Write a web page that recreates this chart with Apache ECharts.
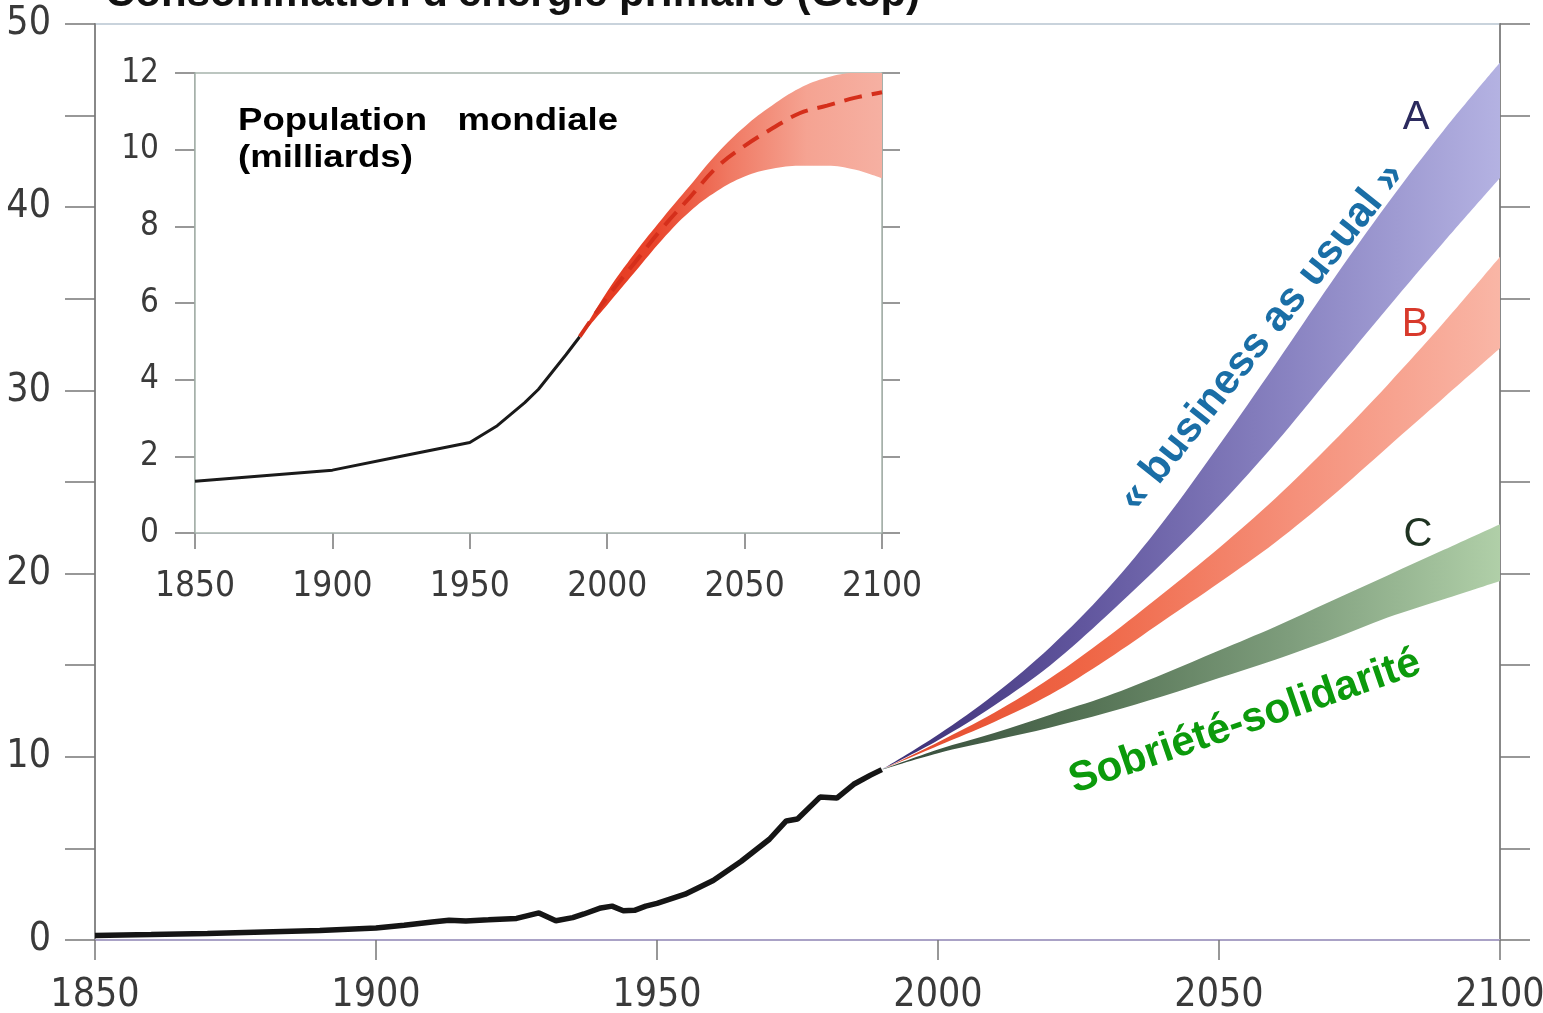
<!DOCTYPE html>
<html><head><meta charset="utf-8">
<script src="https://cdn.jsdelivr.net/npm/echarts@6/dist/echarts.min.js"></script>
<style>html,body{margin:0;padding:0;background:#fff;overflow:hidden}#c{width:1543px;height:1013px}</style>
</head><body><div id="c"></div>
<script>
// ---- Main chart: primary energy consumption (Gtep) ----
const histYears  = [1850,1860,1870,1880,1890,1900,1905,1910,1913,1916,1920,1925,1929,1932,1935,1937,1940,1942,1944,1946,1948,1950,1955,1960,1965,1970,1973,1975,1979,1982,1985,1988,1990];
const histEnergy = [0.25,0.3,0.36,0.44,0.52,0.65,0.8,0.98,1.08,1.04,1.1,1.18,1.48,1.05,1.22,1.42,1.75,1.85,1.6,1.62,1.85,2.0,2.5,3.25,4.3,5.5,6.5,6.6,7.8,7.75,8.5,9.0,9.3];

const scenYears = [1990,2000,2010,2020,2030,2040,2050,2060,2070,2080,2090,2100];
const scenA_lo  = [9.3,10.9,12.8,15.0,17.7,20.6,23.7,27.1,30.8,34.5,38.1,41.6];
const scenA_hi  = [9.3,11.2,13.4,16.0,19.1,22.8,27.0,31.4,35.9,40.2,44.2,47.9];
const scenB_lo  = [9.3,10.6,11.9,13.4,15.3,17.4,19.5,21.7,24.2,26.9,29.6,32.3];
const scenB_hi  = [9.3,10.8,12.4,14.3,16.5,18.9,21.4,24.1,27.1,30.3,33.7,37.3];
const scenC_lo  = [9.3,10.2,10.9,11.6,12.4,13.3,14.3,15.3,16.4,17.6,18.6,19.6];
const scenC_hi  = [9.3,10.4,11.3,12.3,13.3,14.5,15.8,17.1,18.5,19.9,21.3,22.7];

// ---- Inset: world population (billions) ----
const popYears = [1850,1900,1925,1950,1960,1965,1970,1975,1980,1985,1990];
const popHist  = [1.35,1.64,2.0,2.36,2.8,3.1,3.4,3.75,4.2,4.65,5.12];
const projYears = [1990,2000,2010,2020,2030,2040,2050,2060,2070,2080,2090,2100];
const popLo  = [5.12,5.95,6.8,7.65,8.38,8.92,9.3,9.5,9.58,9.58,9.48,9.25];
const popHi  = [5.12,6.3,7.3,8.2,9.05,9.9,10.6,11.15,11.6,11.88,12.0,12.0];
const popMid = [5.12,6.15,7.05,7.95,8.75,9.55,10.1,10.55,10.95,11.15,11.35,11.5];

const NARROW = '"Liberation Sans Narrow","DejaVu Sans Condensed","Liberation Sans",sans-serif';
const SANS = '"Liberation Sans",Arial,sans-serif';

function grad(stops){
  return {type:'linear',x:0,y:0,x2:1,y2:0,colorStops:stops.map((c,i)=>({offset:i/(stops.length-1),color:c}))};
}
// value dimension first so that the stack is applied to the y values
function band(name, xs, lo, hi, xi, yi, stops, smooth){
  return [
    {type:'line', name:name+'_base', xAxisIndex:xi, yAxisIndex:yi, stack:name, smooth:smooth,
     dimensions:['v','t'], encode:{x:'t', y:'v'},
     symbol:'none', silent:true, lineStyle:{width:0,opacity:0}, z:2,
     data: xs.map((x,i)=>[lo[i], x])},
    {type:'line', name:name, xAxisIndex:xi, yAxisIndex:yi, stack:name, smooth:smooth,
     dimensions:['v','t'], encode:{x:'t', y:'v'},
     symbol:'none', lineStyle:{width:0,opacity:0}, areaStyle:{color:grad(stops),opacity:1}, z:2,
     data: xs.map((x,i)=>[+(hi[i]-lo[i]).toFixed(3), x])}
  ];
}

const chart = echarts.init(document.getElementById('c'), null, {renderer:'canvas'});

const option = {
  animation:false,
  backgroundColor:'#ffffff',
  grid:[
    {left:95, right:43, top:24, bottom:73, show:true, borderColor:'#c9d3dc', borderWidth:2, outerBoundsMode:'none', containLabel:false},
    {left:195, top:73, width:687, height:460, show:true, backgroundColor:'#ffffff', borderColor:'#a6b4ac', borderWidth:1.5, z:1, outerBoundsMode:'none', containLabel:false}
  ],
  xAxis:[
    {type:'value', gridIndex:0, min:1850, max:2100, interval:50,
     axisLine:{show:true,lineStyle:{color:'#aaa2c6',width:2}},
     axisTick:{show:true,inside:false,length:20,lineStyle:{color:'#777',width:1.5}},
     axisLabel:{fontSize:39,fontFamily:NARROW,color:'#3a3a3a',margin:36,formatter:v=>String(v)},
     splitLine:{show:false}},
    {type:'value', gridIndex:1, min:1850, max:2100, interval:50,
     axisLine:{show:true,lineStyle:{color:'#b5a9c9',width:1.5}},
     axisTick:{show:true,inside:false,length:16,lineStyle:{color:'#777',width:1.5}},
     axisLabel:{fontSize:35,fontFamily:NARROW,color:'#3a3a3a',margin:36,formatter:v=>String(v)},
     splitLine:{show:false}}
  ],
  yAxis:[
    {type:'value', gridIndex:0, min:0, max:50, interval:5,
     axisLine:{show:true,lineStyle:{color:'#888',width:2}},
     axisTick:{show:true,inside:false,length:30,lineStyle:{color:'#777',width:1.5}},
     axisLabel:{fontSize:39,fontFamily:NARROW,color:'#3a3a3a',margin:44,
       formatter:v=> (v%10===0 ? String(v) : '')},
     splitLine:{show:false}},
    {type:'value', gridIndex:0, position:'right', min:0, max:50, interval:5,
     axisLine:{show:true,lineStyle:{color:'#888',width:2}},
     axisTick:{show:true,inside:false,length:30,lineStyle:{color:'#777',width:1.5}},
     axisLabel:{show:false}, splitLine:{show:false}},
    {type:'value', gridIndex:1, min:0, max:12, interval:2,
     axisLine:{show:true,lineStyle:{color:'#888',width:1.5}},
     axisTick:{show:true,inside:false,length:20,lineStyle:{color:'#777',width:1.5}},
     axisLabel:{fontSize:33,fontFamily:NARROW,color:'#3a3a3a',margin:36},
     splitLine:{show:false}},
    {type:'value', gridIndex:1, position:'right', min:0, max:12, interval:2,
     axisLine:{show:true,lineStyle:{color:'#888',width:1.5}},
     axisTick:{show:true,inside:false,length:18,lineStyle:{color:'#777',width:1.5}},
     axisLabel:{show:false}, splitLine:{show:false}}
  ],
  series:[
    ...band('A', scenYears, scenA_lo, scenA_hi, 0, 0, ['#3a2d74','#62579f','#8a84c2','#b4b2e2'], 0.35),
    ...band('B', scenYears, scenB_lo, scenB_hi, 0, 0, ['#e4482a','#ef6646','#f5907a','#f9b6a6'], 0.35),
    ...band('C', scenYears, scenC_lo, scenC_hi, 0, 0, ['#34493a','#557355','#7f9e7d','#b0cfa8'], 0.35),
    {type:'line', name:'Energie', xAxisIndex:0, yAxisIndex:0, symbol:'none', z:4,
     lineStyle:{color:'#151515',width:5.5},
     data: histYears.map((x,i)=>[x, histEnergy[i]])},
    ...band('Pop', projYears, popLo, popHi, 1, 2, ['#e3361c','#e9452c','#f07a64','#f5a392','#f6b0a2'], 0.4),
    {type:'line', name:'Population', xAxisIndex:1, yAxisIndex:2, symbol:'none', z:4,
     lineStyle:{color:'#1a1a1a',width:3},
     data: popYears.map((x,i)=>[x, popHist[i]])},
    {type:'line', name:'Population médiane', xAxisIndex:1, yAxisIndex:2, symbol:'none', smooth:0.4, z:4,
     lineStyle:{color:'#d52f1b',width:4,type:[18,10]},
     data: projYears.map((x,i)=>[x, popMid[i]])}
  ],
  graphic:[
    {type:'text', x:105, y:-6, z:100,
     style:{text:"Consommation d'énergie primaire (Gtep)", font:'bold 42px '+SANS, fill:'#111', verticalAlign:'middle', align:'left'}},
    {type:'text', x:238, y:103, z:100, scaleX:1.18,
     style:{text:'Population   mondiale\n(milliards)', font:'bold 31px '+SANS, fill:'#000', lineHeight:37, verticalAlign:'top', align:'left'}},
    {type:'text', x:1416, y:118, z:100,
     style:{text:'A', font:'40px '+SANS, fill:'#2b2a5e', align:'center', verticalAlign:'middle'}},
    {type:'text', x:1415, y:325, z:100,
     style:{text:'B', font:'40px '+SANS, fill:'#d8392b', align:'center', verticalAlign:'middle'}},
    {type:'text', x:1418, y:535, z:100,
     style:{text:'C', font:'40px '+SANS, fill:'#1f3322', align:'center', verticalAlign:'middle'}},
    {type:'text', x:1262, y:337, z:100, rotation:51.5*Math.PI/180,
     style:{text:'« business as usual »', font:'bold 42px '+SANS, fill:'#1a6ea6', align:'center', verticalAlign:'middle'}},
    {type:'text', x:1245, y:722, z:100, rotation:19.1*Math.PI/180,
     style:{text:'Sobriété-solidarité', font:'bold 42px '+SANS, fill:'#0c9a0c', align:'center', verticalAlign:'middle'}}
  ]
};
chart.setOption(option);
</script></body></html>
